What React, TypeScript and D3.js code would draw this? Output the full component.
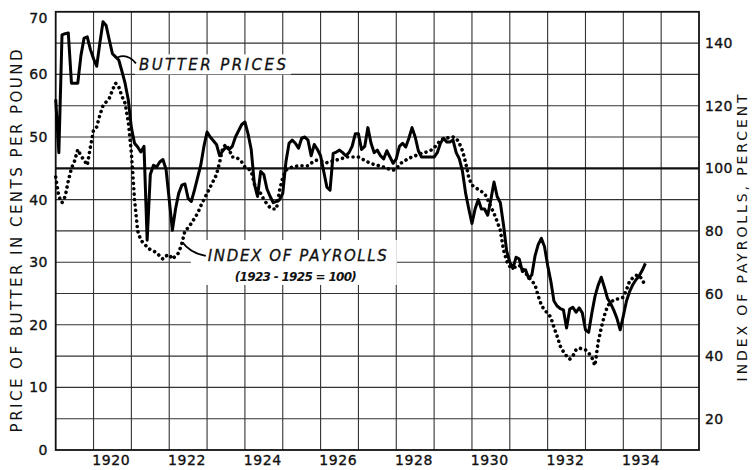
import React from 'react';
import * as d3 from 'd3';

// ---------------- DATA ----------------
const START_YEAR = 1919; // monthly series start in January 1919
const YEAR_LABELS = [1920, 1922, 1924, 1926, 1928, 1930, 1932, 1934];
const CENTS_TICKS = [0, 10, 20, 30, 40, 50, 60, 70];
const PERCENT_TICKS = [20, 40, 60, 80, 100, 120, 140];

// Price of butter, cents per pound (monthly)
const butterPrices = [
  // 1919
  56, 47.5, 66.3, 66.5, 66.6, 58.6, 58.6, 58.6, 63, 65.8, 66, 64,
  // 1920
  62.5, 61.3, 65, 68.4, 67.8, 65.5, 63.3, 62.8, 62.3, 60.5, 58.6, 56,
  // 1921
  51.5, 49, 48.4, 47.6, 48.5, 33.5, 44, 45.5, 45.2, 46, 46.4, 44.8,
  // 1922
  40, 35.1, 38.5, 41, 42.3, 42.5, 40.2, 39.7, 41.5, 43.5, 45.5, 48.5,
  // 1923
  50.8, 50, 49.4, 48.8, 47, 47.8, 48.4, 48, 48.5, 50, 51, 52,
  // 1924
  52.4, 50.5, 48, 42.5, 40.5, 44.5, 44, 41.7, 40.5, 39.5, 39.7, 40,
  // 1925
  41, 46, 49, 49.5, 49, 48.2, 49.8, 50, 49.5, 47, 48.8, 48,
  // 1926
  47, 44.5, 42, 41.5, 47.4, 47.6, 47.9, 47.5, 47, 47.5, 48.5, 50.5,
  // 1927
  50.5, 48, 48.5, 51.5, 49, 47.5, 47.9, 47, 46.5, 47.8, 46.8, 45.8,
  // 1928
  46.5, 48.5, 49, 48.4, 49.8, 51.5, 50, 47.8, 46.8, 46.8, 46.8, 46.8,
  // 1929
  46.8, 47.5, 49, 49.8, 49.2, 49.2, 49.5, 47.5, 46.5, 44.5, 41, 38.5,
  // 1930
  36.2, 38.5, 40, 38.5, 38.5, 37.5, 40, 42.8, 40.5, 39.5, 36, 31.8,
  // 1931
  30, 29, 30.8, 30.5, 28.5, 28.8, 27.4, 28, 31, 32.8, 33.8, 32.5,
  // 1932
  29.5, 27, 23.8, 23, 22.6, 22.4, 19.5, 22.5, 22.8, 22, 22.7, 21.9,
  // 1933
  19.2, 18.8, 21.8, 24.5, 26.3, 27.6, 26, 24.2, 23.4, 22.3, 21, 19.2,
  // 1934
  21.4, 23.8, 25.3, 26.4, 27.2, 27.8, 28.7, 29.8,
];

// Index of payrolls, percent (1923-1925 = 100), monthly
const payrollIndex = [
  // 1919
  97.2, 91, 89, 91, 96, 100, 102.4, 106, 104, 102.6, 101, 106.8,
  // 1920
  112.2, 113.2, 117, 120, 121.2, 122.4, 125, 127.2, 126, 123, 120.8, 115,
  // 1921
  105, 90, 80, 77, 76, 74.8, 74, 73.6, 73, 72, 71, 72,
  // 1922
  72.4, 71, 72, 73, 76, 80, 81, 82.4, 84, 85.6, 88, 90,
  // 1923
  92, 94, 96, 98, 102, 106.6, 107.6, 106, 103.6, 103.6, 103, 102,
  // 1924
  100.4, 100, 99, 95, 93, 92, 90, 88.6, 87.4, 87, 87, 93,
  // 1925
  97, 99.4, 100, 100.4, 100.6, 100.8, 100.8, 100.8, 100.8, 101.6, 102.4, 102.6,
  // 1926
  102.4, 102, 101.8, 102, 102.4, 102.6, 103, 103.2, 103.6, 103.6, 103.6, 103.6,
  // 1927
  103.6, 103, 102.6, 102, 101.6, 101.2, 101, 100.6, 100.4, 100, 99.6, 99.4,
  // 1928
  99.8, 101.2, 102, 102.6, 103.2, 103.6, 104, 104.4, 104.8, 105, 105.4, 105.8,
  // 1929
  106.6, 107.6, 109, 109.4, 109.6, 110, 110, 109.6, 108, 105.6, 101.8, 97,
  // 1930
  94.6, 94, 93.2, 92.6, 92, 90, 87.6, 85.6, 83, 80.2, 74, 70.4,
  // 1931
  68.6, 68.4, 68.4, 69, 68, 66.6, 65.2, 64, 62.8, 59.2, 56.4, 54.6,
  // 1932
  53.8, 52.4, 49.2, 46.4, 43.2, 41.4, 40, 39, 40, 42, 42.6, 42.2,
  // 1933
  42, 41, 39.6, 37, 44.4, 49, 53, 56, 57.2, 58, 58.2, 58.4,
  // 1934
  58.8, 61.2, 64, 65, 65.8, 65.8, 64.4, 62.4,
];

// ---------------- LAYOUT ----------------
const W = 752;
const H = 470;
const FONT = '"DejaVu Sans", "Liberation Sans", sans-serif';

export default function App() {
  const x = d3.scaleLinear().domain([1919, 1936]).range([55.7, 699]);
  const yC = d3.scaleLinear().domain([0, 70]).range([450, 11.8]);
  const yP = d3.scaleLinear().domain([10, 150]).range([450, 11.8]);

  const t = (i: number) => START_YEAR + i / 12;

  const butterLine = d3
    .line<number>()
    .x((_, i) => x(t(i)))
    .y((d) => yC(d));
  const payLine = d3
    .line<number>()
    .x((_, i) => x(t(i)))
    .y((d) => yP(d));

  const yearGrid = d3.range(1920, 1936);
  const centGrid = d3.range(5, 70, 5);

  const [x0, x1] = x.range();
  const [yb, yt] = yC.range();

  // annotation anchors (data coordinates)
  const bx = x(1921.2);
  const by = yC(61.6);
  const px = x(1923.02);
  const py = yC(31.0);

  return (
    <svg
      width={W}
      height={H}
      style={{ position: 'absolute', left: 0, top: 0, background: '#fff' }}
      fontFamily={FONT}
    >
      <rect x={0} y={0} width={W} height={H} fill="#fff" />
      {/* grid */}
      <g stroke="#333" strokeWidth={1.1}>
        {yearGrid.map((yr) => (
          <line key={'v' + yr} x1={x(yr)} x2={x(yr)} y1={yb} y2={yt} />
        ))}
        {centGrid.map((c) => (
          <line
            key={'h' + c}
            x1={x0}
            x2={x1}
            y1={yC(c)}
            y2={yC(c)}
            strokeWidth={c === 45 ? 2.2 : 1.1}
            stroke={c === 45 ? '#111' : '#333'}
          />
        ))}
      </g>
      {/* frame */}
      <rect
        x={x0}
        y={yt}
        width={x1 - x0}
        height={yb - yt}
        fill="none"
        stroke="#111"
        strokeWidth={1.8}
      />

      {/* annotation backgrounds */}
      <rect x={bx - 4} y={by - 10} width={156} height={20} fill="#fff" />
      <rect x={px - 17} y={py - 16} width={206} height={45} fill="#fff" />

      {/* data */}
      <path
        d={payLine(payrollIndex) || ''}
        fill="none"
        stroke="#000"
        strokeWidth={3.6}
        strokeLinecap="round"
        strokeDasharray="0.01 5.4"
      />
      <path
        d={butterLine(butterPrices) || ''}
        fill="none"
        stroke="#000"
        strokeWidth={3}
        strokeLinejoin="round"
      />

      {/* annotations */}
      <path
        d={`M${x(1920.63)},${yC(62.7)} Q${x(1920.9)},${yC(63.4)} ${bx - 3},${by - 1}`}
        fill="none"
        stroke="#000"
        strokeWidth={1.8}
      />
      <text
        x={bx}
        y={by + 5.5}
        fontSize={15}
        fontStyle="italic"
        fill="#111"
        stroke="#111"
        strokeWidth={0.3}
        textLength={147}
        lengthAdjust="spacing"
      >
        BUTTER PRICES
      </text>
      <path
        d={`M${x(1922.35)},${yC(33.2)} Q${x(1922.55)},${yC(31.5)} ${px - 2},${py}`}
        fill="none"
        stroke="#000"
        strokeWidth={1.8}
      />
      <text
        x={px}
        y={py + 5.5}
        fontSize={15}
        fontStyle="italic"
        fill="#111"
        stroke="#111"
        strokeWidth={0.3}
        textLength={179}
        lengthAdjust="spacing"
      >
        INDEX OF PAYROLLS
      </text>
      <text
        x={px + 27}
        y={py + 25}
        fontSize={12}
        fontStyle="italic"
        fontWeight="bold"
        fill="#111"
        textLength={122}
        lengthAdjust="spacing"
      >
        (1923 - 1925 = 100)
      </text>

      {/* left ticks */}
      {CENTS_TICKS.map((c) => (
        <text
          key={'l' + c}
          x={48}
          y={Math.max(yC(c), 18)}
          dy="0.36em"
          textAnchor="end"
          fontSize={14}
          letterSpacing={0.5}
          fill="#111"
          stroke="#111"
          strokeWidth={0.35}
        >
          {c}
        </text>
      ))}
      {/* right ticks */}
      {PERCENT_TICKS.map((p) => (
        <text
          key={'r' + p}
          x={705}
          y={yP(p)}
          dy="0.36em"
          fontSize={14}
          letterSpacing={0.4}
          fill="#111"
          stroke="#111"
          strokeWidth={0.35}
        >
          {p}
        </text>
      ))}
      {/* year labels */}
      {YEAR_LABELS.map((yr) => (
        <text
          key={'y' + yr}
          x={x(yr + 0.47)}
          y={465}
          textAnchor="middle"
          fontSize={14}
          letterSpacing={0.6}
          fill="#111"
          stroke="#111"
          strokeWidth={0.35}
        >
          {yr}
        </text>
      ))}
      {/* axis titles */}
      <text
        transform={`translate(22,${(yb + yt) / 2 + 10}) rotate(-90)`}
        textAnchor="middle"
        fontSize={15}
        fill="#111"
        textLength={383}
        lengthAdjust="spacing"
      >
        PRICE OF BUTTER IN CENTS PER POUND
      </text>
      <text
        transform={`translate(747,${(yb + yt) / 2 + 7}) rotate(-90)`}
        textAnchor="middle"
        fontSize={14}
        fill="#111"
        textLength={287}
        lengthAdjust="spacing"
      >
        INDEX OF PAYROLLS, PERCENT
      </text>
    </svg>
  );
}
